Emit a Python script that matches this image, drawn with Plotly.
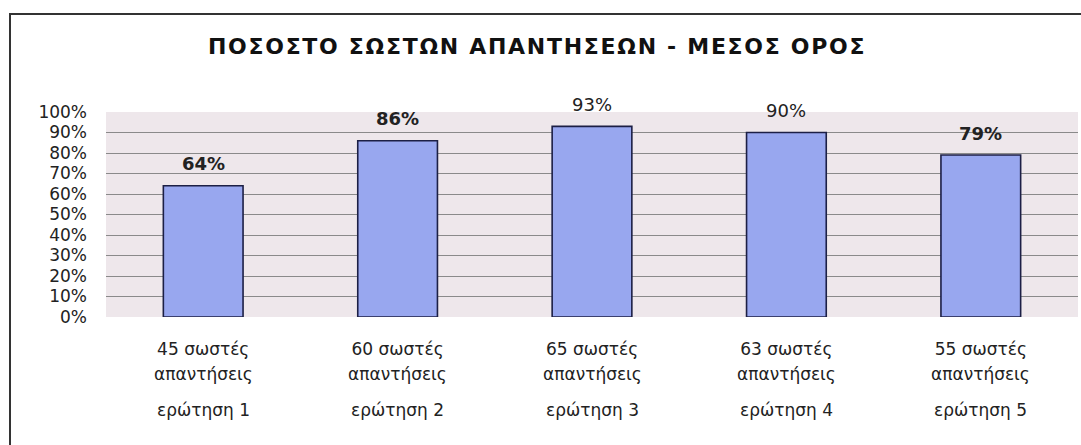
import plotly.graph_objects as go

questions = ["ερώτηση 1", "ερώτηση 2", "ερώτηση 3", "ερώτηση 4", "ερώτηση 5"]
correct_counts = [45, 60, 65, 63, 55]
percent_correct = [64, 86, 93, 90, 79]
y_ticks = [0, 10, 20, 30, 40, 50, 60, 70, 80, 90, 100]
title_text = "ΠΟΣΟΣΤΟ ΣΩΣΤΩΝ ΑΠΑΝΤΗΣΕΩΝ - ΜΕΣΟΣ ΟΡΟΣ"
answers_word = "απαντήσεις"

label_bold = [True, True, False, False, True]

FONT = "DejaVu Sans, Verdana, sans-serif"
W, H = 1081, 445
ML, MR, MT, MB = 106, 3, 112, 128
PW = W - ML - MR
PH = H - MT - MB

x = list(range(len(questions)))
ticktext = [f"{c} σωστές" for c in correct_counts]

fig = go.Figure()
fig.add_trace(go.Bar(
    x=x, y=percent_correct,
    marker=dict(color="#98a7ef", line=dict(color="#1c1f45", width=1.6)),
    width=0.41,
    hoverinfo="skip",
))

annotations = []
for i, (v, b) in enumerate(zip(percent_correct, label_bold)):
    t = f"{v}%"
    if b:
        t = f"<b>{t}</b>"
    annotations.append(dict(
        x=i, y=v, xref="x", yref="y", text=t, showarrow=False,
        yanchor="middle", yshift=22,
        font=dict(family=FONT, size=18, color="#222222"),
    ))
for i, q in enumerate(questions):
    annotations.append(dict(
        x=i, y=0, xref="x", yref="paper", text=answers_word, showarrow=False,
        yanchor="middle", yshift=-57,
        font=dict(family=FONT, size=17, color="#222222"),
    ))
    annotations.append(dict(
        x=i, y=0, xref="x", yref="paper", text=q, showarrow=False,
        yanchor="middle", yshift=-93,
        font=dict(family=FONT, size=17, color="#222222"),
    ))
annotations.append(dict(
    x=(537 - ML) / PW, y=(H - MB - 47) / PH, xref="paper", yref="paper",
    text=f'<span style="letter-spacing:1.7px">{title_text}</span>',
    showarrow=False, xanchor="center", yanchor="middle",
    font=dict(family=FONT, size=22, color="#111111", weight="bold"),
))

def px_x(p):
    return (p - ML) / PW

def px_y(p):
    return (H - MB - p) / PH

shapes = [dict(
    type="rect", xref="paper", yref="paper",
    x0=px_x(10), x1=px_x(1095), y0=px_y(460), y1=px_y(14),
    line=dict(color="#333333", width=2), fillcolor="rgba(0,0,0,0)", layer="above",
)]

fig.update_layout(
    width=W, height=H,
    margin=dict(l=ML, r=MR, t=MT, b=MB),
    paper_bgcolor="white",
    plot_bgcolor="#eee7eb",
    showlegend=False,
    font=dict(family=FONT, color="#222222"),
    annotations=annotations,
    shapes=shapes,
    xaxis=dict(
        tickmode="array", tickvals=x, ticktext=ticktext,
        range=[-0.5, len(questions) - 0.5],
        showgrid=False, zeroline=False, showline=False,
        ticks="", ticklabelstandoff=20,
        tickfont=dict(family=FONT, size=17, color="#222222"),
    ),
    yaxis=dict(
        range=[0, 100], tickmode="array", tickvals=y_ticks,
        ticktext=[f"{t}%" for t in y_ticks],
        showgrid=True, gridcolor="#8a8a8a", gridwidth=1,
        zeroline=False, showline=False, ticks="",
        ticklabelstandoff=18,
        tickfont=dict(family=FONT, size=17, color="#222222"),
    ),
)

fig.write_html("out.html")
